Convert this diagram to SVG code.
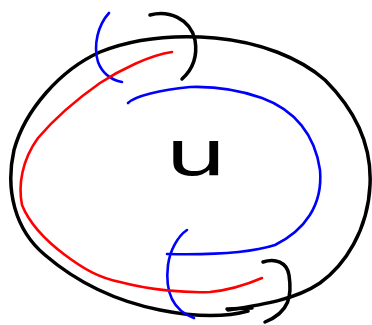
<svg xmlns="http://www.w3.org/2000/svg" width="372" height="325" viewBox="0 0 372 325">
<style>
.s{fill:none;stroke-linecap:round;stroke-linejoin:round}
.k{stroke:#000;stroke-width:3.5}
.b{stroke:#0000ff;stroke-width:2.6}
.r{stroke:#ff0000;stroke-width:2.6}
.t{font-family:"DejaVu Sans","Liberation Sans",sans-serif;font-size:62px;fill:#000}
</style>
<rect width="372" height="325" fill="#fff"/>
<g id="connectors">
<path class="s k" d="M 248 311 C 230 316, 200 318, 160 310 C 120 302, 80 285, 45 255 C 15 230, 5 190, 14 150 C 25 110, 60 70, 100 52 C 140 36, 180 35, 215 38 C 260 42, 300 58, 325 80 C 355 110, 372 145, 370 185 C 368 230, 345 265, 320 283 C 295 300, 260 305, 228 310"/>
<path class="s k" d="M 150 15 C 168 10, 190 18, 195 40 C 198 58, 192 70, 182 79"/>
<path class="s k" d="M 263 262 C 275 258, 287 262, 289 275 C 292 295, 290 312, 265 322"/>
<path class="s k" d="M 227 309 L 252 308"/>
<path class="s b" d="M 109 13 C 98 25, 93 45, 98 62 C 103 75, 112 80, 122 82"/>
<path class="s b" d="M 128 103 C 135 96, 160 90, 190 87 C 220 86, 245 92, 262 98 C 295 110, 315 135, 320 170 C 323 205, 305 230, 275 245 C 250 253, 210 255, 167 254"/>
<path class="s b" d="M 187 230 C 178 236, 170 250, 168 265 C 165 290, 172 310, 194 318"/>
<path class="s r" d="M 172 52 C 150 55, 120 70, 100 83 C 80 97, 55 118, 38 138 C 22 160, 18 185, 22 205 C 30 225, 45 240, 65 255 C 85 270, 100 278, 120 282 C 150 290, 185 293, 210 292 C 230 290, 248 284, 262 278"/>
</g>
<g id="label-u">
<text class="t" x="165" y="175" textLength="62" lengthAdjust="spacingAndGlyphs">u</text>
</g>
</svg>
